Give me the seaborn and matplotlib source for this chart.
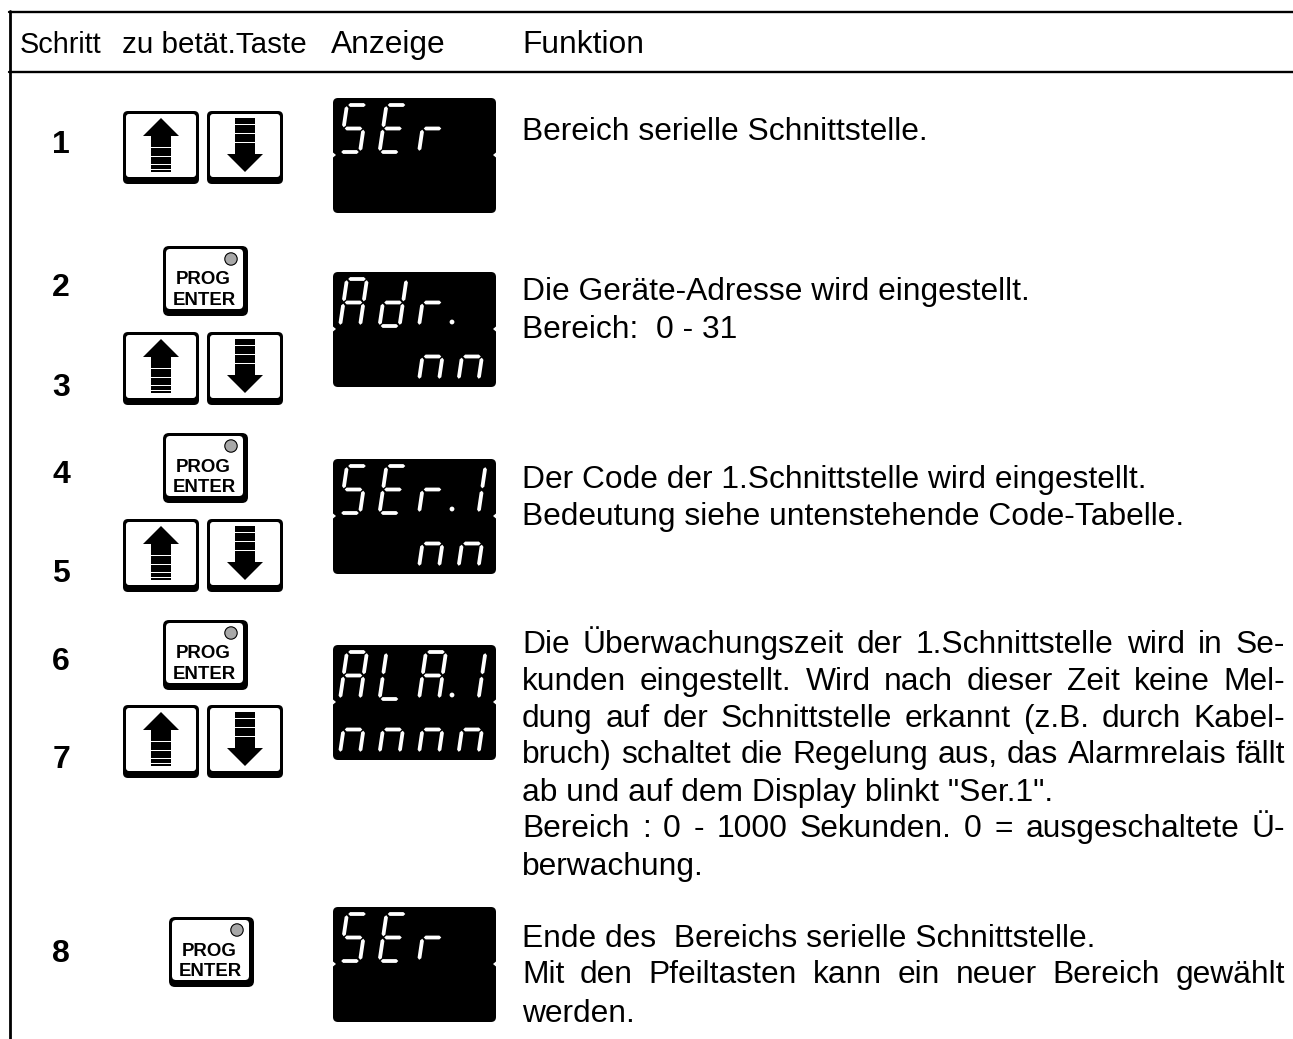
import matplotlib
matplotlib.use("Agg")
import matplotlib.pyplot as plt
from matplotlib.patches import FancyBboxPatch, Circle, Polygon, Rectangle
import seaborn as sns

sns.set_theme(style="white")
plt.rcParams['font.family'] = ['Liberation Sans', 'DejaVu Sans']

HEADERS = ["Schritt", "zu betät.Taste", "Anzeige", "Funktion"]
HEADER_X = [20, 122, 331, 522]
HEADER_SIZE = [20.8, 21.3, 22.9, 22.9]

STEPS = ["1", "2", "3", "4", "5", "6", "7", "8"]
STEP_BASELINE = [153, 296, 396, 483, 582, 670, 768, 962]

DISPLAY_TOPS = [98, 272, 459, 645, 907]
DISPLAY_ROW1 = ["SEr", "Adr.", "SEr.1", "ALA.1", "SEr"]
DISPLAY_ROW2 = ["", "  nn", "  nn", "nnnn", ""]

ARROW_KEY_TOPS = [111, 332, 519, 705]
PROG_KEY_X = [163, 163, 163, 169]
PROG_KEY_TOPS = [246, 433, 620, 917]

TEXT_LINES = [
    "Bereich serielle Schnittstelle.",
    "Die Geräte-Adresse wird eingestellt.",
    "Bereich:  0 - 31",
    "Der Code der 1.Schnittstelle wird eingestellt.",
    "Bedeutung siehe untenstehende Code-Tabelle.",
    "Die Überwachungszeit der 1.Schnittstelle wird in Se-",
    "kunden eingestellt. Wird nach dieser Zeit keine Mel-",
    "dung auf der Schnittstelle erkannt (z.B. durch Kabel-",
    "bruch) schaltet die Regelung aus, das Alarmrelais fällt",
    "ab und auf dem Display blinkt \"Ser.1\".",
    "Bereich : 0 - 1000 Sekunden. 0 = ausgeschaltete Ü-",
    "berwachung.",
    "Ende des  Bereichs serielle Schnittstelle.",
    "Mit den Pfeiltasten kann ein neuer Bereich gewählt",
    "werden.",
]
TEXT_BASELINE = [140, 300, 338, 488, 525, 653, 690, 727, 763, 801, 837, 875, 947, 983, 1022]
JUSTIFIED = [5, 6, 7, 8, 10, 13]

# segments lit for each character of the display
SEGMENTS = {"S": "afgcd", "E": "afged", "r": "eg", "A": "abcefg", "d": "bcdeg",
            "L": "fed", "n": "egc", "1": "bc"}

fig = plt.figure(figsize=(12.93, 10.39), dpi=100)
ax = fig.add_axes([0, 0, 1, 1])

# table frame
sns.lineplot(x=[9, 1293], y=[12, 12], color="black", linewidth=1.7, ax=ax, estimator=None, sort=False)
sns.lineplot(x=[9, 1293], y=[71.5, 71.5], color="black", linewidth=1.7, ax=ax, estimator=None, sort=False)
sns.lineplot(x=[9.5, 9.5], y=[11, 1039], color="black", linewidth=2, ax=ax, estimator=None, sort=False)

ax.set_xlim(0, 1293)
ax.set_ylim(1039, 0)
ax.axis("off")


def rounded(x, y, w, h, r, color):
    ax.add_patch(FancyBboxPatch((x + r, y + r), w - 2 * r, h - 2 * r,
                                boxstyle=f"round,pad={r},rounding_size={r}",
                                fc=color, ec="none", zorder=3))


def draw_segment(p, q, half=1.9):
    ux, uy = q[0] - p[0], q[1] - p[1]
    n = (ux ** 2 + uy ** 2) ** 0.5
    ux, uy = ux / n, uy / n
    nx, ny = -uy, ux
    a = (p[0] + ux * 1.2, p[1] + uy * 1.2)
    b = (q[0] - ux * 1.2, q[1] - uy * 1.2)
    pts = [a, (a[0] + ux * half + nx * half, a[1] + uy * half + ny * half),
           (b[0] - ux * half + nx * half, b[1] - uy * half + ny * half), b,
           (b[0] - ux * half - nx * half, b[1] - uy * half - ny * half),
           (a[0] + ux * half - nx * half, a[1] + uy * half - ny * half)]
    ax.add_patch(Polygon(pts, closed=True, fc="white", ec="none", zorder=5))


def draw_digit(ch, x0, ybot):
    w, h, slant = 20, 47, 7
    pt = lambda u, v: (x0 + u * w + v * slant, ybot - v * h)
    ends = {"a": ((0, 1), (1, 1)), "b": ((1, 1), (1, .5)), "c": ((1, .5), (1, 0)),
            "d": ((0, 0), (1, 0)), "e": ((0, 0), (0, .5)), "f": ((0, .5), (0, 1)),
            "g": ((0, .5), (1, .5))}
    for s in SEGMENTS[ch]:
        draw_segment(pt(*ends[s][0]), pt(*ends[s][1]))


def draw_row(text, ybot):
    col = 0
    for ch in text:
        if ch == ".":
            ax.add_patch(Circle((340 + 39.5 * (col - 1) + 33, ybot - 4), 2.4, fc="white", ec="none", zorder=5))
            continue
        if ch != " ":
            draw_digit(ch, 340 + 39.5 * col, ybot)
        col += 1


def draw_display(top, row1, row2):
    rounded(333, top, 163, 115, 5, "black")
    for x, d in [(333, 3), (496, -3)]:
        ax.add_patch(Polygon([(x - d * .2, top + 54), (x + d, top + 57), (x - d * .2, top + 60)],
                             fc="white", ec="none", zorder=4))
    draw_row(row1, top + 54)
    draw_row(row2, top + 108)


def draw_arrow_key(x, top, up):
    rounded(x, top, 76, 73, 5, "black")
    rounded(x + 3, top + 3, 70, 63, 3, "white")
    cx = x + 38
    if up:
        tip, base, s0, s1 = top + 7, top + 25, top + 25, top + 61
        stripes = [top + 36, top + 45, top + 53, top + 58]
    else:
        tip, base, s0, s1 = top + 61, top + 43, top + 7, top + 43
        stripes = [top + 13, top + 22, top + 31]
    ax.add_patch(Polygon([(cx, tip), (cx - 18, base), (cx + 18, base)], fc="black", ec="none", zorder=4))
    ax.add_patch(Rectangle((cx - 10, s0), 20, s1 - s0, fc="black", ec="none", zorder=4))
    for sy in stripes:
        ax.add_patch(Rectangle((cx - 10, sy), 20, 1.0, fc="white", ec="none", zorder=5))


def draw_prog_key(x, top):
    rounded(x, top, 85, 70, 6, "black")
    rounded(x + 3, top + 3, 77, 60, 4, "white")
    ax.add_patch(Circle((x + 68, top + 13), 6.2, fc="#a8a8a8", ec="black", lw=0.8, zorder=5))
    ax.text(x + 40.5, top + 38.5, "PROG", fontsize=13.4, fontweight="bold", ha="center", color="black", zorder=5)
    ax.text(x + 41, top + 59, "ENTER", fontsize=13.4, fontweight="bold", ha="center", color="black", zorder=5)


def draw_justified(line, y, x0=522, x1=1285, size=22.9):
    words = line.split(" ")
    renderer = fig.canvas.get_renderer()
    items = [ax.text(x0, y, w, fontsize=size, color="black") for w in words]
    widths = [t.get_window_extent(renderer).width for t in items]
    gap = (x1 - x0 - sum(widths)) / (len(words) - 1)
    x = x0
    for t, w in zip(items, widths):
        t.set_x(x)
        x += w + gap


for label, x, size in zip(HEADERS, HEADER_X, HEADER_SIZE):
    ax.text(x, 53, label, fontsize=size, color="black")

for label, y in zip(STEPS, STEP_BASELINE):
    ax.text(61, y, label, fontsize=23, fontweight="bold", ha="center", color="black")

for top, row1, row2 in zip(DISPLAY_TOPS, DISPLAY_ROW1, DISPLAY_ROW2):
    draw_display(top, row1, row2)

for top in ARROW_KEY_TOPS:
    draw_arrow_key(123, top, True)
    draw_arrow_key(207, top, False)

for x, top in zip(PROG_KEY_X, PROG_KEY_TOPS):
    draw_prog_key(x, top)

for i, (line, y) in enumerate(zip(TEXT_LINES, TEXT_BASELINE)):
    if i in JUSTIFIED:
        draw_justified(line, y)
    else:
        ax.text(522, y, line, fontsize=22.9, color="black")

fig.savefig("out.png", dpi=100)
